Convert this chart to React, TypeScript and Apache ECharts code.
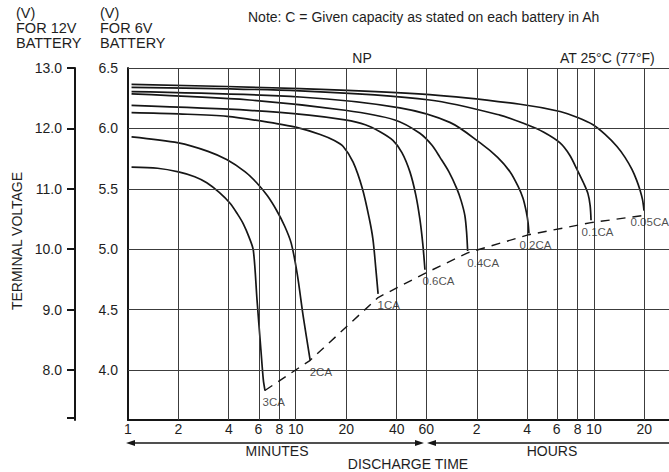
import React, { useEffect, useRef } from "react";
import * as echarts from "echarts";

// ---- data ----
const RATES = ["3CA", "2CA", "1CA", "0.6CA", "0.4CA", "0.2CA", "0.1CA", "0.05CA"];

// [minutes, volts (6V battery)]
const CURVE_3CA = [[1.05, 5.68], [1.5, 5.67], [2.0, 5.64], [2.5, 5.6], [2.95, 5.55], [3.5, 5.47], [4.06, 5.38], [4.5, 5.29], [4.87, 5.21], [5.27, 5.1], [5.59, 4.99], [5.88, 4.58], [6.2, 4.17], [6.41, 3.92], [6.56, 3.83]];
const CURVE_2CA = [[1.05, 5.93], [2.0, 5.88], [3.0, 5.81], [3.9, 5.74], [5.0, 5.64], [5.85, 5.55], [6.8, 5.44], [7.7, 5.32], [8.6, 5.19], [9.4, 5.05], [10.2, 4.8], [11.1, 4.44], [12.2, 4.08]];
const CURVE_1CA = [[1.05, 6.13], [2, 6.12], [3.9, 6.1], [7.7, 6.04], [10, 6.01], [14, 5.95], [17, 5.9], [19.2, 5.85], [22, 5.72], [25, 5.5], [27.5, 5.25], [28.9, 5.08], [30, 4.85], [31, 4.63]];
const CURVE_06CA = [[1.05, 6.19], [5.3, 6.15], [12, 6.11], [19.7, 6.07], [26, 6.03], [32, 5.97], [38, 5.9], [43, 5.8], [48, 5.64], [52, 5.45], [55, 5.25], [57.2, 5.05], [59, 4.83]];
const CURVE_04CA = [[1.05, 6.285], [5.3, 6.235], [19.7, 6.15], [39, 6.07], [55, 5.96], [65, 5.86], [72.5, 5.76], [82, 5.64], [91.5, 5.5], [97, 5.4], [102, 5.28], [104.5, 5.14], [106, 4.985]];
const CURVE_02CA = [[1.05, 6.304], [10.6, 6.26], [41.8, 6.17], [83, 6.05], [126, 5.88], [160, 5.76], [190, 5.64], [212, 5.52], [227, 5.42], [238, 5.3], [243, 5.22], [246, 5.13]];
const CURVE_01CA = [[1.05, 6.34], [10.6, 6.31], [63, 6.235], [165, 6.11], [240, 6.03], [300, 5.97], [377, 5.88], [430, 5.78], [476, 5.66], [520, 5.55], [553, 5.46], [570, 5.36], [577, 5.24]];
const CURVE_005CA = [[1.05, 6.365], [10.6, 6.33], [63, 6.28], [218, 6.2], [377, 6.14], [480, 6.09], [593, 6.03], [700, 5.95], [824, 5.85], [920, 5.76], [1012, 5.66], [1080, 5.57], [1130, 5.49], [1170, 5.41], [1194, 5.32]];
const CURVES = [CURVE_3CA, CURVE_2CA, CURVE_1CA, CURVE_06CA, CURVE_04CA, CURVE_02CA, CURVE_01CA, CURVE_005CA];

// end-of-discharge (dashed) line
const CUTOFF = [[6.55, 3.83], [12.2, 4.08], [31, 4.6], [59, 4.8], [106, 4.97], [246, 5.12], [577, 5.22], [1194, 5.28]];

// ticks
const MINUTE_TICKS = [1, 2, 4, 6, 8, 10, 20, 40, 60];
const HOUR_TICKS = [2, 4, 6, 8, 10, 20];
const V6_TICKS = [4.0, 4.5, 5.0, 5.5, 6.0, 6.5];
const V12_TICKS = [8.0, 9.0, 10.0, 11.0, 12.0, 13.0];

const Y_MIN = 3.586;
const Y_MAX = 6.5;
const X_MAX_MIN = 1683; // minutes at right (cropped) edge

// ---- styling ----
const FONT = "'Liberation Sans', Arial, Helvetica, sans-serif";
const INK = "#161616";
const TXT = "#1e1e1e";
const GRID = "#3c3c3c";
const LABEL_DX = [-2, 0, 0, -2, 0, -9, -9, -13];

const lg = (m: number) => Math.log10(m);

export default function App() {
  const ref = useRef<HTMLDivElement>(null);

  useEffect(() => {
    const chart = echarts.init(ref.current!, null, { renderer: "svg" });

    const xTickMinutes = [...MINUTE_TICKS, ...HOUR_TICKS.map((h) => h * 60)];
    const xTicks = xTickMinutes.map(lg);
    const fmtX = (v: number) => {
      const t = Math.pow(10, v);
      return t < 61 ? String(Math.round(t)) : String(Math.round(t / 60));
    };

    const gridLines = [
      ...V6_TICKS.filter((v) => v > Y_MIN).map((v) => ({ yAxis: v })),
      ...xTickMinutes.filter((m) => m > 1).map((m) => ({ xAxis: lg(m) })),
    ];

    const curveSeries = CURVES.map((c, i) => ({
      type: "line",
      name: RATES[i],
      data: c.map(([m, v]) => [lg(m), v]),
      showSymbol: false,
      symbol: "none",
      smooth: 0.3,
      silent: true,
      z: 4,
      lineStyle: { color: INK, width: 1.7 },
    }));

    const labelSeries = {
      type: "scatter",
      silent: true,
      z: 6,
      symbolSize: 1,
      itemStyle: { color: "rgba(0,0,0,0)" },
      data: CURVES.map((c, i) => {
        const last = c[c.length - 1];
        return {
          value: [lg(last[0]), last[1]],
          label: { position: [LABEL_DX[i], 12] },
        };
      }),
      label: {
        show: true,
        formatter: (p: any) => RATES[p.dataIndex],
        align: "left",
        verticalAlign: "middle",
        color: TXT,
        fontSize: 11.5,
        fontFamily: FONT,
      },
    };

    const arrowY = 443;
    const graphic: any[] = [
      { type: "text", x: 16, y: 5, style: { text: "(V)\nFOR 12V\nBATTERY", fontSize: 14.5, fontFamily: FONT, lineHeight: 15, fill: TXT } },
      { type: "text", x: 100, y: 5, style: { text: "(V)\nFOR 6V\nBATTERY", fontSize: 14.5, fontFamily: FONT, lineHeight: 15, fill: TXT } },
      { type: "text", x: 248, y: 17, style: { text: "Note: C = Given capacity as stated on each battery in Ah", fontSize: 14, fontFamily: FONT, fill: TXT, verticalAlign: "middle" } },
      { type: "text", x: 362, y: 58, style: { text: "NP", fontSize: 14, fontFamily: FONT, fill: TXT, align: "center", verticalAlign: "middle" } },
      { type: "text", x: 560, y: 58, style: { text: "AT 25°C (77°F)", fontSize: 14, fontFamily: FONT, fill: TXT, verticalAlign: "middle" } },
      { type: "text", x: 17, y: 241, rotation: Math.PI / 2, style: { text: "TERMINAL VOLTAGE", fontSize: 14, fontFamily: FONT, fill: TXT, align: "center", verticalAlign: "middle" } },
      { type: "text", x: 277, y: 451, style: { text: "MINUTES", fontSize: 14, fontFamily: FONT, fill: TXT, align: "center", verticalAlign: "middle" } },
      { type: "text", x: 552, y: 451, style: { text: "HOURS", fontSize: 14, fontFamily: FONT, fill: TXT, align: "center", verticalAlign: "middle" } },
      { type: "text", x: 408, y: 464, style: { text: "DISCHARGE TIME", fontSize: 14, fontFamily: FONT, fill: TXT, align: "center", verticalAlign: "middle" } },
      { type: "line", shape: { x1: 130, y1: arrowY, x2: 420, y2: arrowY }, style: { stroke: INK, lineWidth: 1.5 } },
      { type: "polygon", shape: { points: [[126, arrowY], [135, arrowY - 3], [135, arrowY + 3]] }, style: { fill: INK } },
      { type: "polygon", shape: { points: [[424, arrowY], [415, arrowY - 3], [415, arrowY + 3]] }, style: { fill: INK } },
      { type: "line", shape: { x1: 430, y1: arrowY, x2: 669, y2: arrowY }, style: { stroke: INK, lineWidth: 1.5 } },
      { type: "polygon", shape: { points: [[427, arrowY], [436, arrowY - 3], [436, arrowY + 3]] }, style: { fill: INK } },
    ];

    chart.setOption({
      animation: false,
      backgroundColor: "#ffffff",
      grid: { left: 128, right: 0, top: 68, bottom: 52, containLabel: false, outerBoundsMode: "none" },
      xAxis: {
        type: "value",
        min: 0,
        max: lg(X_MAX_MIN),
        axisLine: { show: true, onZero: false, lineStyle: { color: INK, width: 2 } },
        axisTick: { show: false },
        splitLine: { show: false },
        axisLabel: {
          customValues: xTicks,
          formatter: fmtX,
          margin: 2,
          color: TXT,
          fontSize: 14,
          fontFamily: FONT,
        },
      },
      yAxis: [
        {
          type: "value",
          min: Y_MIN,
          max: Y_MAX,
          position: "left",
          axisLine: { show: true, onZero: false, lineStyle: { color: INK, width: 2 } },
          axisTick: { show: false },
          splitLine: { show: false },
          axisLabel: {
            customValues: V6_TICKS,
            formatter: (v: number) => v.toFixed(1),
            margin: 10,
            color: TXT,
            fontSize: 14,
            fontFamily: FONT,
          },
        },
        {
          type: "value",
          min: Y_MIN * 2,
          max: Y_MAX * 2,
          position: "left",
          offset: 53,
          axisLine: { show: true, onZero: false, lineStyle: { color: INK, width: 2 } },
          axisTick: { show: true, customValues: [Y_MIN * 2 + 0.03, ...V12_TICKS], length: 8, lineStyle: { color: INK, width: 2 } },
          splitLine: { show: false },
          axisLabel: {
            customValues: V12_TICKS,
            formatter: (v: number) => v.toFixed(1),
            margin: 13,
            color: TXT,
            fontSize: 14,
            fontFamily: FONT,
          },
        },
      ],
      series: [
        {
          type: "line",
          name: "grid",
          data: [],
          silent: true,
          z: 1,
          markLine: {
            silent: true,
            symbol: ["none", "none"],
            label: { show: false },
            lineStyle: { type: "solid", color: GRID, width: 1 },
            emphasis: { disabled: true },
            data: gridLines,
          },
        },
        ...curveSeries,
        {
          type: "line",
          name: "cutoff",
          data: CUTOFF.map(([m, v]) => [lg(m), v]),
          showSymbol: false,
          symbol: "none",
          silent: true,
          z: 5,
          lineStyle: { color: INK, width: 1.4, type: [9, 7] },
        },
        labelSeries,
      ],
      graphic,
    });

    return () => chart.dispose();
  }, []);

  return (
    <div
      ref={ref}
      style={{ position: "fixed", left: 0, top: 0, width: 669, height: 472, background: "#fff" }}
    />
  );
}
